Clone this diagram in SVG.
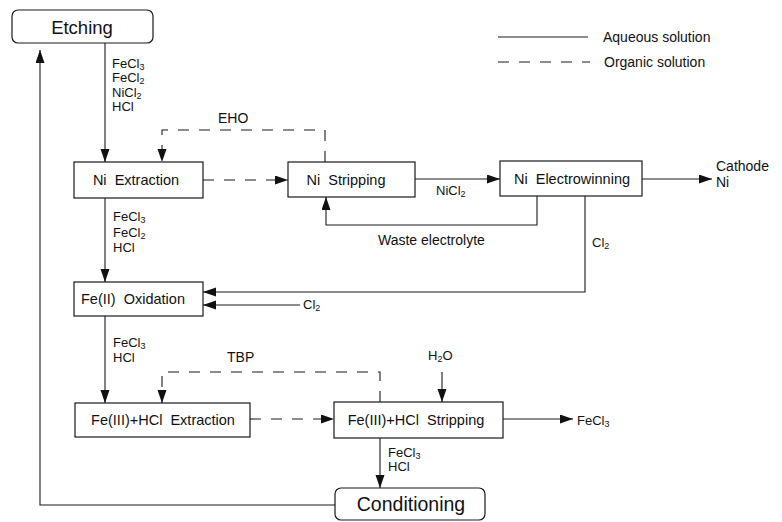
<svg xmlns="http://www.w3.org/2000/svg" width="782" height="522" viewBox="0 0 782 522">
<style>
.box{fill:#fff;stroke:#1a1a1a;stroke-width:1.2}
.t{font-family:"Liberation Sans",Arial,sans-serif;font-size:14.5px;fill:#111;text-anchor:middle;dominant-baseline:central;white-space:pre}
.tl{font-family:"Liberation Sans",Arial,sans-serif;font-size:18.5px;fill:#111;text-anchor:middle;dominant-baseline:central}
.lab{font-family:"Liberation Sans",Arial,sans-serif;font-size:13px;fill:#111}
.w{font-size:14px}
.sub{font-size:9px}
.aq{fill:none;stroke:#1a1a1a;stroke-width:1.1}
.org{fill:none;stroke:#1a1a1a;stroke-width:1.1;stroke-dasharray:11 10}
</style>
<defs>
<marker id="ah" markerUnits="userSpaceOnUse" markerWidth="14" markerHeight="10" refX="13" refY="4.5" orient="auto">
<path d="M0,0 L13,4.5 L0,9 z" fill="#111"/>
</marker>
</defs>
<g id="legend">
<line class="aq" x1="498" y1="37" x2="588" y2="37"/>
<text class="lab w" x="603" y="42">Aqueous solution</text>
<line class="org" x1="498" y1="62" x2="590" y2="62"/>
<text class="lab w" x="604" y="67">Organic solution</text>
</g>
<g id="connectors">
<line class="aq" x1="105" y1="43" x2="105" y2="162" marker-end="url(#ah)"/>
<path class="org" d="M325,162 V130 H162 V162" marker-end="url(#ah)"/>
<line class="org" x1="203" y1="180" x2="288" y2="180" marker-end="url(#ah)"/>
<line class="aq" x1="415" y1="179" x2="500" y2="179" marker-end="url(#ah)"/>
<line class="aq" x1="642" y1="179" x2="712" y2="179" marker-end="url(#ah)"/>
<path class="aq" d="M537,196 V225 H326 V197" marker-end="url(#ah)"/>
<path class="aq" d="M585,196 V292 H203" marker-end="url(#ah)"/>
<line class="aq" x1="300" y1="305" x2="203" y2="305" marker-end="url(#ah)"/>
<line class="aq" x1="105" y1="198" x2="105" y2="282" marker-end="url(#ah)"/>
<line class="aq" x1="105" y1="316" x2="105" y2="403" marker-end="url(#ah)"/>
<path class="org" d="M380,402 V372 H162 V403" marker-end="url(#ah)"/>
<line class="org" x1="250" y1="419" x2="334" y2="419" marker-end="url(#ah)"/>
<line class="aq" x1="442" y1="372" x2="442" y2="402" marker-end="url(#ah)"/>
<line class="aq" x1="503" y1="419" x2="573" y2="419" marker-end="url(#ah)"/>
<line class="aq" x1="380" y1="438" x2="380" y2="488" marker-end="url(#ah)"/>
<path class="aq" d="M335,505 H40 V50" marker-end="url(#ah)"/>
</g>
<g id="labels">
<text class="lab" x="112" y="68">FeCl<tspan class="sub" dy="2">3</tspan></text>
<text class="lab" x="112" y="82">FeCl<tspan class="sub" dy="2">2</tspan></text>
<text class="lab" x="112" y="97">NiCl<tspan class="sub" dy="2">2</tspan></text>
<text class="lab" x="112" y="111">HCl</text>
<text class="lab w" x="218" y="123">EHO</text>
<text class="lab" x="436" y="195">NiCl<tspan class="sub" dy="2">2</tspan></text>
<text class="lab w" x="716" y="171">Cathode</text>
<text class="lab w" x="716" y="187">Ni</text>
<text class="lab w" x="378" y="245">Waste electrolyte</text>
<text class="lab" x="592" y="247">Cl<tspan class="sub" dy="2">2</tspan></text>
<text class="lab" x="303" y="309">Cl<tspan class="sub" dy="2">2</tspan></text>
<text class="lab" x="113" y="221">FeCl<tspan class="sub" dy="2">3</tspan></text>
<text class="lab" x="113" y="237">FeCl<tspan class="sub" dy="2">2</tspan></text>
<text class="lab" x="113" y="252">HCl</text>
<text class="lab" x="113" y="347">FeCl<tspan class="sub" dy="2">3</tspan></text>
<text class="lab" x="113" y="362">HCl</text>
<text class="lab w" x="227" y="362">TBP</text>
<text class="lab" x="428" y="360">H<tspan class="sub" dy="2">2</tspan><tspan dy="-2">O</tspan></text>
<text class="lab" x="577" y="425">FeCl<tspan class="sub" dy="2">3</tspan></text>
<text class="lab" x="388" y="457">FeCl<tspan class="sub" dy="2">3</tspan></text>
<text class="lab" x="388" y="471">HCl</text>
</g>
<g id="etching">
<rect class="box" x="12" y="10" width="141" height="33" rx="6"/>
<text class="tl" x="82" y="27">Etching</text>
</g>
<g id="ni-extraction">
<rect class="box" x="74" y="162" width="129" height="36"/>
<text class="t" x="136" y="180">Ni  Extraction</text>
</g>
<g id="ni-stripping">
<rect class="box" x="288" y="162" width="127" height="35"/>
<text class="t" x="346" y="180">Ni  Stripping</text>
</g>
<g id="ni-electrowinning">
<rect class="box" x="500" y="161" width="142" height="35"/>
<text class="t" x="572" y="179">Ni  Electrowinning</text>
</g>
<g id="fe2-oxidation">
<rect class="box" x="74" y="282" width="129" height="34"/>
<text class="t" x="133" y="299">Fe(II)  Oxidation</text>
</g>
<g id="fe3-extraction">
<rect class="box" x="75" y="403" width="175" height="34"/>
<text class="t" x="163" y="420">Fe(III)+HCl  Extraction</text>
</g>
<g id="fe3-stripping">
<rect class="box" x="334" y="402" width="169" height="36"/>
<text class="t" x="416" y="420">Fe(III)+HCl  Stripping</text>
</g>
<g id="conditioning">
<rect class="box" x="335" y="488" width="150" height="32" rx="6"/>
<text class="tl" x="411" y="504" style="font-size:19.5px">Conditioning</text>
</g>
</svg>
